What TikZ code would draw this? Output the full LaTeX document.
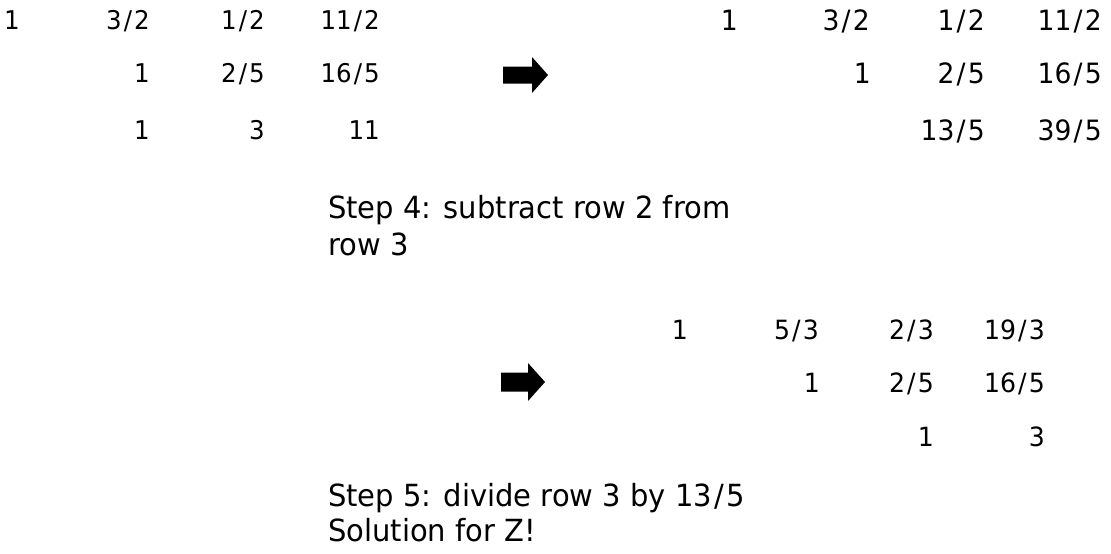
\documentclass[tikz,border=0pt]{standalone}
\usepackage{fontspec}
% slide font is a little narrower than DejaVu Sans
\setmainfont[FakeStretch=0.95]{DejaVu Sans}
\usepackage{tikz}

% slash with some room round it, as on the slide
\newcommand{\fracsep}{\kern.08em/\kern.08em}

\tikzset{
  numtl/.style={anchor=base east, inner sep=0pt, font=\fontsize{25.8}{30}\selectfont},
  numtr/.style={anchor=base east, inner sep=0pt, font=\fontsize{28}{33}\selectfont},
  numbt/.style={anchor=base east, inner sep=0pt, font=\fontsize{26.5}{31}\selectfont},
  steptext/.style={anchor=base west, inner sep=0pt, font=\fontsize{30.5}{36}\selectfont}
}

\begin{document}
\begin{tikzpicture}[x=1pt,y=-1pt]
\useasboundingbox (0,0) rectangle (1111,554);
% matrix before step 4
\node[numtl] (a11) at (20,29.5) {1};
\node[numtl] (a12) at (150,29.5) {3\fracsep2};
\node[numtl] (a13) at (265,29.5) {1\fracsep2};
\node[numtl] (a14) at (380,29.5) {11\fracsep2};
\node[numtl] (a22) at (150,82.5) {1};
\node[numtl] (a23) at (265,82.5) {2\fracsep5};
\node[numtl] (a24) at (380,82.5) {16\fracsep5};
\node[numtl] (a32) at (150,139.5) {1};
\node[numtl] (a33) at (265,139.5) {3};
\node[numtl] (a34) at (380,139.5) {11};
% arrow
\fill (503,66.5) -- (532,66.5) -- (532,57) -- (548,75) -- (532,93) -- (532,83.5) -- (503,83.5) -- cycle;
% matrix after step 4
\node[numtr] (b11) at (738,30) {1};
\node[numtr] (b12) at (870,30) {3\fracsep2};
\node[numtr] (b13) at (985,30) {1\fracsep2};
\node[numtr] (b14) at (1102,30) {11\fracsep2};
\node[numtr] (b22) at (871,83) {1};
\node[numtr] (b23) at (985,83) {2\fracsep5};
\node[numtr] (b24) at (1102,83) {16\fracsep5};
\node[numtr] (b33) at (985,140) {13\fracsep5};
\node[numtr] (b34) at (1102,140) {39\fracsep5};
\node[steptext] (s4a) at (328,218) {Step 4: subtract row 2 from};
\node[steptext] (s4b) at (328,255) {row 3};
% matrix after step 5
\node[numbt] (c11) at (688,339.5) {1};
\node[numbt] (c12) at (819,339.5) {5\fracsep3};
\node[numbt] (c13) at (934,339.5) {2\fracsep3};
\node[numbt] (c14) at (1045,339.5) {19\fracsep3};
\node[numbt] (c22) at (820,392.5) {1};
\node[numbt] (c23) at (934,392.5) {2\fracsep5};
\node[numbt] (c24) at (1045,392.5) {16\fracsep5};
\node[numbt] (c33) at (934,446.5) {1};
\node[numbt] (c34) at (1045,446.5) {3};
% arrow
\fill (501,372.5) -- (528,372.5) -- (528,363) -- (545,382) -- (528,401) -- (528,391.5) -- (501,391.5) -- cycle;
\node[steptext] (s5a) at (328,506) {Step 5: divide row 3 by 13\fracsep5};
\node[steptext] (s5b) at (328,541) {Solution for Z!};
\end{tikzpicture}
\end{document}
